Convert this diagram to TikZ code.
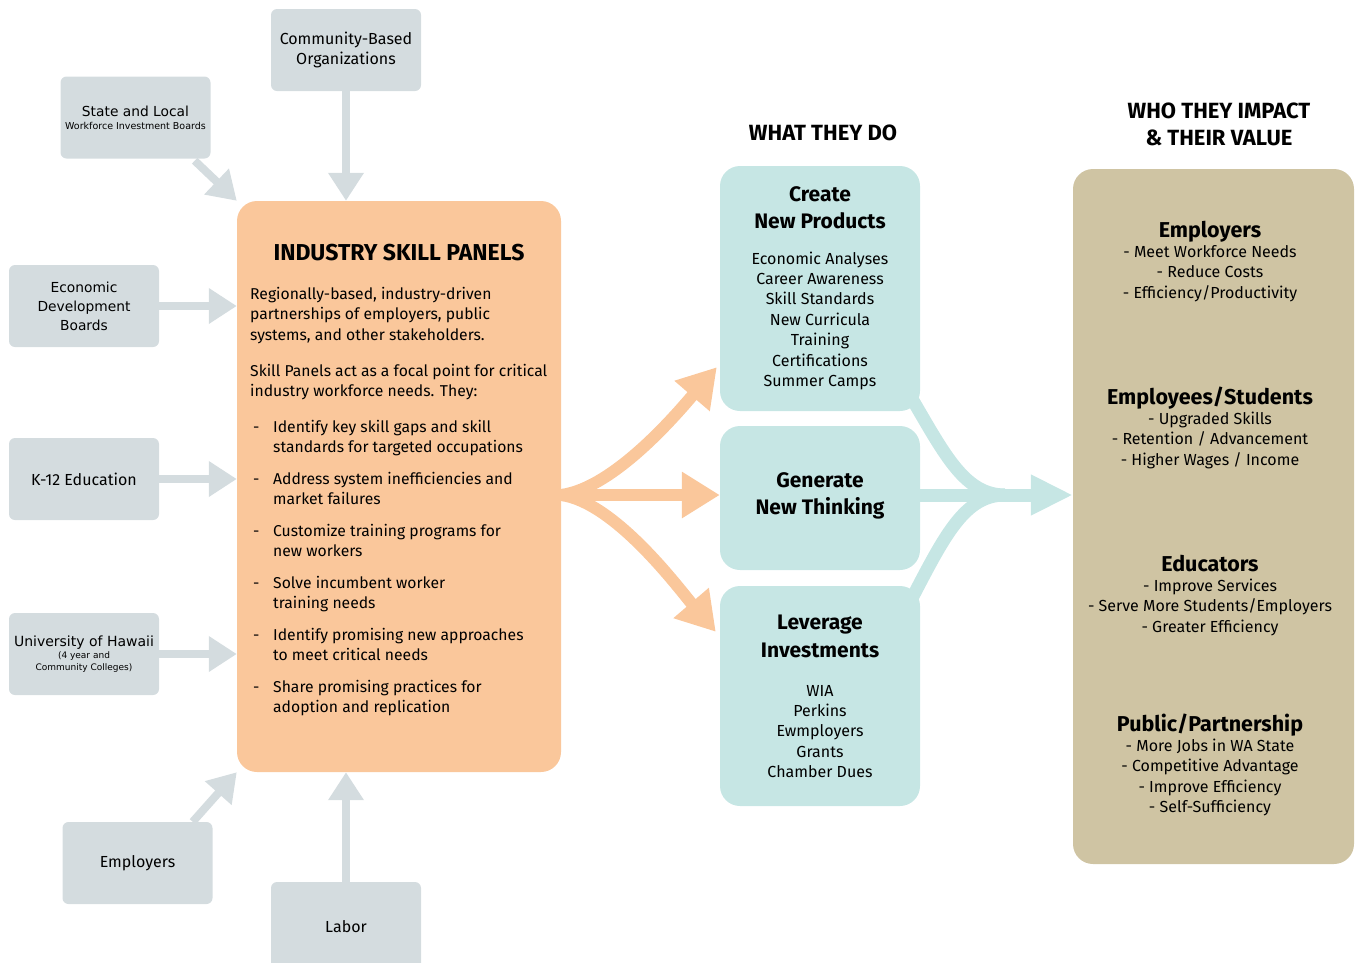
\documentclass[tikz,border=0pt]{standalone}
\usepackage{fontspec}
\setmainfont{Fira Sans}
\newfontfamily\verdfont{DejaVu Sans}
\usepackage{tikz}
\usetikzlibrary{arrows.meta,calc}
\usetikzlibrary{positioning}
\definecolor{boxgray}{RGB}{212,220,223}
\definecolor{panelorange}{RGB}{250,199,155}
\definecolor{doteal}{RGB}{198,230,228}
\definecolor{impacttan}{RGB}{207,196,163}
\tikzset{
    % Define source box style
    src/.style={
           fill=boxgray,
           rounded corners=6pt,
           minimum width=150pt,
           minimum height=82pt,
           inner sep=0pt,
           align=center,
           font=\fontsize{16}{20}\selectfont},
    % Define big rounded boxes
    bigbox/.style={
           rounded corners=20pt,
           inner sep=0pt},
    % Define text styles
    txt/.style={
           inner sep=0pt,
           align=left,
           font=\fontsize{15.7}{20.5}\selectfont},
    ctxt/.style={
           inner sep=0pt,
           align=center,
           font=\fontsize{16}{20.4}\selectfont},
    head/.style={
           inner sep=0pt,
           align=center,
           font=\fontsize{22}{27}\selectfont\bfseries},
    % Define arrow styles
    grayarr/.style={
           draw=boxgray,
           line width=8pt,
           -{Triangle[width=34pt,length=28pt]}},
    orarr/.style={
           draw=panelorange,
           line width=12pt,
           -{Triangle[width=44pt,length=38pt]}},
    tealarr/.style={
           draw=doteal,
           line width=13pt}
}
\begin{document}
\begin{tikzpicture}[x=1pt,y=-1pt]
  \useasboundingbox (0,0) rectangle (1357,962);
  % sources
  \node (cbo) at (346,50) [src] {Community-Based\\Organizations};
  \node (wib) at (135.5,117.5) [src,font=\verdfont\fontsize{13.8}{15}\selectfont] {State and Local\\[-2pt]{\fontsize{9.5}{11}\selectfont Workforce Investment Boards}};
  \node (edb) at (84,306) [src,font=\verdfont\fontsize{13.8}{19}\selectfont] {Economic\\Development\\Boards};
  \node (k12) at (84,479) [src] {K-12 Education};
  \node (uh) at (84,654) [src,font=\verdfont\fontsize{14}{15}\selectfont] {University of Hawaii\\[-3pt]{\fontsize{9}{11}\selectfont (4 year and}\\[-3pt]{\fontsize{9}{11}\selectfont Community Colleges)}};
  \node (emp) at (137.5,863) [src] {Employers};
  \node (lab) at (346,927) [src,minimum height=90pt] {Labor};
  % main panel
  \node (isp) at (399,486.5) [bigbox,fill=panelorange,minimum width=324pt,minimum height=571pt] {};
  \node (isptitle) at (399,260) [anchor=base,head,font=\fontsize{23}{27}\selectfont\bfseries] {INDUSTRY SKILL PANELS};
  \node (intro) at (250,340) [anchor=base west,txt] {Regionally-based, industry-driven\\partnerships of employers, public\\systems, and other stakeholders.};
  \node (focal) at (250,396.5) [anchor=base west,txt] {Skill Panels act as a focal point for critical\\industry workforce needs. They:};
  \foreach \btext [count=\i] in {{Identify key skill gaps and skill\\standards for targeted occupations},
      {Address system inefficiencies and\\market failures},
      {Customize training programs for\\new workers},
      {Solve incumbent worker\\training needs},
      {Identify promising new approaches\\to meet critical needs},
      {Share promising practices for\\adoption and replication}}{
    \node (dash\i) at (253,{432+52*(\i-1)}) [anchor=base west,txt] {-};
    \node (bul\i) at (273,{452.5+52*(\i-1)}) [anchor=base west,txt] {\btext};
  }
  % what they do
  \node (dohead) at (823,140) [anchor=base,head] {WHAT THEY DO};
  \node (create) at (820,288.5) [bigbox,fill=doteal,minimum width=200pt,minimum height=245pt] {};
  \node (gen) at (820,498) [bigbox,fill=doteal,minimum width=200pt,minimum height=144pt] {};
  \node (lev) at (820,696) [bigbox,fill=doteal,minimum width=200pt,minimum height=220pt] {};
  \node (createt) at (820,228) [anchor=base,head,font=\fontsize{21}{27}\selectfont\bfseries] {Create\\New Products};
  \node (createl) at (820,386.4) [anchor=base,ctxt] {Economic Analyses\\Career Awareness\\Skill Standards\\New Curricula\\Training\\Certifications\\Summer Camps};
  \node (gent) at (820,514) [anchor=base,head,font=\fontsize{21}{27}\selectfont\bfseries] {Generate\\New Thinking};
  \node (levt) at (820,657) [anchor=base,head,font=\fontsize{21}{28}\selectfont\bfseries] {Leverage\\Investments};
  \node (levl) at (820,777.6) [anchor=base,ctxt] {WIA\\Perkins\\Ewmployers\\Grants\\Chamber Dues};
  % who they impact
  \node (imphead) at (1219,145) [anchor=base,head] {WHO THEY IMPACT\\\& THEIR VALUE};
  \node (impact) at (1213.5,516.5) [bigbox,fill=impacttan,minimum width=281pt,minimum height=695pt] {};
  \foreach \ttl/\y/\n/\lst [count=\i] in {{Employers}/237/3/{- Meet Workforce Needs\\- Reduce Costs\\- Efficiency/Productivity},
      {Employees/Students}/404/3/{- Upgraded Skills\\- Retention / Advancement\\- Higher Wages / Income},
      {Educators}/571/3/{- Improve Services\\- Serve More Students/Employers\\- Greater Efficiency},
      {Public/Partnership}/731/4/{- More Jobs in WA State\\- Competitive Advantage\\- Improve Efficiency\\- Self-Sufficiency}}{
    \node (grp\i) at (1210,\y) [anchor=base,head,font=\fontsize{21.5}{26}\selectfont\bfseries] {\ttl};
    \node (val\i) at (1210,{\y+20+20.5*(\n-1)}) [anchor=base,ctxt,font=\fontsize{16}{20.5}\selectfont] {\lst};
  }
  % inputs
  \draw [grayarr] (cbo) -- (isp.north -| cbo);
  \draw [grayarr] ($(wib.south east)+(-16,2)$) -- (isp.north west);
  \draw [grayarr] (edb.east) -- (edb.east -| isp.west);
  \draw [grayarr] (k12.east) -- (k12.east -| isp.west);
  \draw [grayarr] (uh.east) -- (uh.east -| isp.west);
  \draw [grayarr] ($(emp.north east)+(-20,0)$) -- (isp.south west);
  \draw [grayarr] (lab.north) -- (lab |- isp.south);
  % fan out
  \coordinate (fork) at ($(isp.east)+(0,8.5)$);
  \coordinate (ctip) at ($(create.south west)+(-3,-44)$);
  \coordinate (ltip) at ($(lev.north west)+(-4,46)$);
  \draw [orarr] (fork) .. controls (615,488) and (680,410) .. (ctip);
  \draw [orarr] (fork) -- (gen.west |- fork);
  \draw [orarr] (fork) .. controls (615,502) and (680,590) .. (ltip);
  % merge
  \coordinate (merge) at (1005,495);
  \draw [tealarr] ($(create.south east)+(-8,-12)$) .. controls (945,455) and (965,495) .. (merge);
  \draw [tealarr] ($(lev.north east)+(-8,12)$) .. controls (945,535) and (965,495) .. (merge);
  \draw [tealarr,-{Triangle[width=38pt,length=42pt]}] (gen.east |- merge) -- (impact.west |- merge);
\end{tikzpicture}
\end{document}
